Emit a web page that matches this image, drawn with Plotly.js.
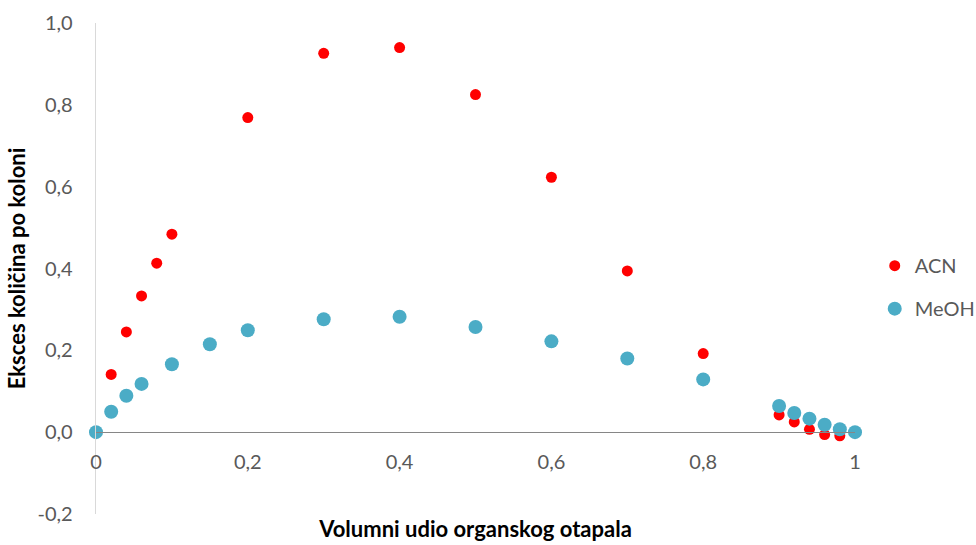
<!DOCTYPE html>
<html>
<head>
<meta charset="utf-8">
<script src="https://cdn.plot.ly/plotly-3.0.1.min.js"></script>
<style>html,body{margin:0;padding:0;background:#fff;}#chart{width:976px;height:545px;}</style>
</head>
<body>
<div id="chart"></div>
<script>
const acnX = [0, 0.02, 0.04, 0.06, 0.08, 0.10, 0.2, 0.3, 0.4, 0.5, 0.6, 0.7, 0.8, 0.9, 0.92, 0.94, 0.96, 0.98];
const acnY = [0, 0.141, 0.245, 0.333, 0.413, 0.484, 0.769, 0.926, 0.940, 0.825, 0.623, 0.394, 0.192, 0.042, 0.025, 0.007, -0.006, -0.009];
const meohX = [0, 0.02, 0.04, 0.06, 0.10, 0.15, 0.2, 0.3, 0.4, 0.5, 0.6, 0.7, 0.8, 0.9, 0.92, 0.94, 0.96, 0.98, 1.0];
const meohY = [0, 0.050, 0.089, 0.118, 0.166, 0.215, 0.249, 0.276, 0.282, 0.257, 0.222, 0.180, 0.129, 0.064, 0.047, 0.033, 0.018, 0.007, 0];
const xTickVals = [0, 0.2, 0.4, 0.6, 0.8, 1];
const xTickLabels = ['0', '0,2', '0,4', '0,6', '0,8', '1'];
const yTickVals = [-0.2, 0, 0.2, 0.4, 0.6, 0.8, 1.0];
const yTickLabels = ['-0,2', '0,0', '0,2', '0,4', '0,6', '0,8', '1,0'];
const xTitle = 'Volumni udio organskog otapala';
const yTitle = 'Eksces količina po koloni';

const font = 'Lato, "Open Sans", sans-serif';
const traces = [
  {x: acnX, y: acnY, name: 'ACN', type: 'scatter', mode: 'markers', cliponaxis: false,
   legendgroup: 'a', marker: {color: '#FF0000', size: 11}},
  {x: meohX, y: meohY, name: 'MeOH', type: 'scatter', mode: 'markers', cliponaxis: false,
   legendgroup: 'b', marker: {color: '#4BACC6', size: 14}}
];
const layout = {
  width: 976, height: 545,
  margin: {l: 96, r: 121, t: 23, b: 31, autoexpand: false},
  paper_bgcolor: '#fff', plot_bgcolor: '#fff',
  font: {family: font, size: 20, color: '#595959'},
  showlegend: true,
  legend: {x: 1.026, xanchor: 'left', y: 0.462, yanchor: 'middle', tracegroupgap: 14,
           font: {family: font, size: 20, color: '#595959'}},
  xaxis: {range: [0, 1], tickmode: 'array', tickvals: xTickVals, ticktext: xTickLabels,
          showgrid: false, zeroline: false,
          anchor: 'free', position: 1/6, showline: true, linecolor: '#868686', linewidth: 1.3,
          ticks: '', ticklabelstandoff: 12, automargin: false,
          title: {text: xTitle, standoff: 49, font: {family: font, size: 22, color: '#000', weight: 'bold'}}},
  yaxis: {range: [-0.2, 1.0], tickmode: 'array', tickvals: yTickVals, ticktext: yTickLabels,
          showgrid: false, zeroline: false, showline: true, linecolor: '#D9D9D9', linewidth: 1.3, ticks: '',
          ticklabelstandoff: 18, automargin: false,
          title: {text: yTitle, standoff: 5, font: {family: font, size: 22, color: '#000', weight: 'bold'}}}
};
Plotly.newPlot('chart', traces, layout, {displayModeBar: false, staticPlot: true});
</script>
</body>
</html>
